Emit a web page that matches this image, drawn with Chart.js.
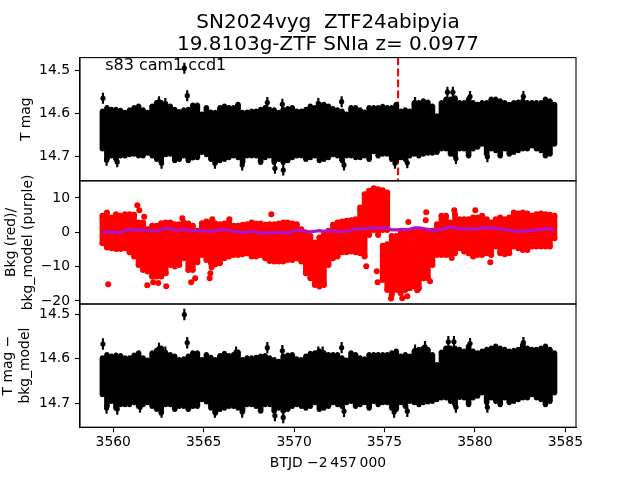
<!DOCTYPE html>
<html>
<head>
<meta charset="utf-8">
<style>body{margin:0;background:#fff}</style>
<script src="https://cdn.jsdelivr.net/npm/chart.js@4"></script>
</head>
<body>
<canvas id="myChart" width="640" height="480"></canvas>
<script>
// time bins, 0.25 d
const times = [3559.4,3559.65,3559.9,3560.15,3560.4,3560.65,3560.9,3561.15,3561.4,3561.65,3561.9,3562.15,3562.4,3562.65,3562.9,3563.15,3563.4,3563.65,3563.9,3564.15,3564.4,3564.65,3564.9,3565.15,3565.4,3565.65,3565.9,3566.15,3566.4,3566.65,3566.9,3567.15,3567.4,3567.65,3567.9,3568.15,3568.4,3568.65,3568.9,3569.15,3569.4,3569.65,3569.9,3570.15,3570.4,3570.65,3570.9,3571.15,3571.4,3571.65,3571.9,
  3572.15,3572.4,3572.65,3572.9,3573.15,3573.4,3573.65,3573.9,3574.15,3574.4,3574.65,3574.9,3575.15,3575.4,3575.65,3575.9,3576.15,3576.4,3576.65,3576.9,3577.15,3577.4,3577.65,3577.9,3578.15,3578.4,3578.65,3578.9,3579.15,3579.4,3579.65,3579.9,3580.15,3580.4,3580.65,3580.9,3581.15,3581.4,3581.65,3581.9,3582.15,3582.4,3582.65,3582.9,3583.15,3583.4,3583.65,3583.9,3584.15,3584.4];

// T mag, upper and lower edge of the dense band
const magTop = [14.589,14.581,14.585,14.585,14.587,14.592,14.586,14.581,14.577,14.586,14.592,14.577,14.569,14.569,14.573,14.577,14.585,14.590,14.586,14.585,14.575,14.575,14.596,14.581,14.591,14.592,14.581,14.577,14.581,14.581,14.573,14.592,14.591,14.589,14.589,14.585,14.581,14.585,14.586,14.592,14.585,14.583,14.581,14.589,14.589,14.585,14.577,14.581,14.573,14.573,14.577,
  14.583,14.586,14.589,14.596,14.581,14.581,14.586,14.591,14.581,14.581,14.581,14.578,14.581,14.581,14.573,14.589,14.586,14.589,14.569,14.569,14.565,14.568,14.577,14.600,14.569,14.561,14.561,14.558,14.569,14.569,14.561,14.569,14.573,14.569,14.569,14.561,14.561,14.565,14.569,14.573,14.569,14.568,14.565,14.569,14.569,14.569,14.569,14.561,14.565,14.573];
const magBottom = [14.689,14.713,14.705,14.713,14.705,14.705,14.702,14.701,14.705,14.705,14.699,14.705,14.713,14.720,14.702,14.701,14.716,14.713,14.705,14.716,14.710,14.709,14.697,14.702,14.713,14.720,14.716,14.713,14.709,14.705,14.709,14.720,14.705,14.705,14.705,14.720,14.709,14.705,14.720,14.713,14.720,14.716,14.709,14.705,14.705,14.713,14.709,14.705,14.716,14.713,14.709,
  14.702,14.705,14.716,14.705,14.705,14.709,14.709,14.705,14.713,14.695,14.705,14.701,14.701,14.713,14.716,14.709,14.713,14.705,14.701,14.705,14.701,14.699,14.699,14.697,14.689,14.689,14.701,14.705,14.689,14.689,14.705,14.689,14.685,14.678,14.701,14.689,14.693,14.705,14.689,14.701,14.697,14.693,14.689,14.689,14.682,14.689,14.693,14.705,14.701,14.678];
const magOutT = [3559.43,3563.93,3564.09,3568.52,3569.35,3562.53,3562.88,3571.34,3559.63,3560.22,3562.67,3565.62,3567.13,3568.94,3569.4,3572.63,3572.76,3575.58,3576.26,3578.48,3578.78,3579.73,3582.68,3578.95,3580.69,3576.69];
const magOutV = [14.565,14.495,14.559,14.575,14.579,14.573,14.577,14.577,14.709,14.713,14.716,14.716,14.720,14.728,14.732,14.573,14.720,14.716,14.715,14.551,14.551,14.561,14.561,14.705,14.701,14.575];

// Bkg
const bkgTop = [5.66,6.63,5.17,6.14,5.66,6.14,6.14,5.95,3.71,3.71,1.77,2.74,2.74,3.52,3.71,3.71,3.23,3.23,3.71,3.42,2.74,1.28,3.52,4.0,3.71,3.42,3.23,3.42,4.0,2.74,2.74,3.03,3.23,3.71,3.42,3.42,3.03,3.23,3.23,3.42,3.71,3.71,3.42,3.23,1.77,0.8,-0.18,-2.12,-0.66,0.31,1.28,
  3.03,3.71,4.0,4.2,4.39,4.68,8.09,11.97,12.94,13.72,13.43,13.14,12.46,-0.18,-0.18,1.28,1.28,1.28,1.28,1.48,1.28,1.28,1.28,3.23,5.66,5.66,3.71,6.14,4.68,4.68,4.68,5.17,5.17,5.66,4.68,3.71,4.68,5.17,4.68,5.17,6.63,6.34,6.63,6.34,5.66,6.14,6.34,6.14,5.95,5.66];
const bkgBottom = [-4.06,-5.33,-5.52,-5.71,-5.71,-5.52,-6.69,-7.95,-10.38,-11.84,-12.32,-13.78,-13.78,-13.78,-12.81,-10.38,-10.86,-10.38,-8.44,-11.84,-11.84,-9.6,-7.46,-8.92,-9.89,-10.18,-9.89,-8.44,-7.95,-7.46,-7.46,-7.27,-6.98,-7.95,-7.95,-7.46,-8.44,-9.21,-9.41,-9.41,-9.41,-8.92,-8.92,-8.44,-9.41,-12.81,-14.27,-16.21,-16.7,-16.21,-10.38,
  -8.44,-7.95,-6.69,-6.69,-6.49,-6.69,-6.98,-7.95,-1.63,-0.18,-1.63,-0.18,-0.18,-19.13,-17.67,-18.64,-17.67,-17.18,-16.7,-17.18,-14.27,-14.27,-10.38,-7.46,-7.46,-7.46,-7.46,-6.98,-5.52,-6.49,-6.98,-7.95,-7.46,-7.46,-6.98,-7.46,-5.03,-6.98,-7.27,-6.98,-5.03,-5.52,-6.01,-6.01,-5.03,-5.03,-5.03,-5.03,-5.03,-2.6];
const dipT = [3574.9,3575.15];
const dipTop = [-3.09,-2.6];
const dipBottom = [-14.75,-17.67];
const bkgOutT = [3561.33,3561.44,3561.71,3563.82,3568.74,3566.42,3565.48,3559.72,3561.88,3562.21,3562.49,3562.93,3564.31,3564.53,3565.33,3565.37,3565.44,3577.31,3577.28,3576.32,3578.86,3580.02,3573.99,3574.57,3574.62,3575.36,3575.98,3576.26,3576.81,3577.52,3580.85,3578.72];
const bkgOutV = [7.89,6.43,4.49,4.1,5.27,3.81,3.81,-15.14,-15.43,-14.56,-14.75,-15.72,-14.56,-13.39,-13.39,-11.93,-10.18,5.85,3.52,3.03,6.43,6.43,-9.89,-11.35,-14.56,-19.32,-19.22,-18.64,-16.89,-14.27,-8.73,-7.46];
const bkgModel = [0.12,0.02,-0.18,0.12,-0.18,0.5,0.99,0.6,0.7,0.8,0.6,0.31,0.5,0.8,1.09,0.99,0.7,0.6,0.99,0.31,0.5,0.5,0.5,0.31,0.31,0.5,0.7,0.8,0.6,0.31,0.12,-0.18,0.12,0.31,0.12,-0.18,-0.27,-0.18,-0.18,0.12,-0.18,-0.27,0.31,0.5,0.5,0.31,0.12,0.31,0.5,0.31,0.5,
  0.31,0.31,0.02,0.31,0.6,1.09,0.99,1.09,1.09,1.28,1.28,1.28,1.28,0.7,0.7,0.8,0.8,0.89,1.28,1.28,1.09,0.8,0.5,0.6,0.8,1.28,1.48,1.28,0.99,1.09,0.99,0.99,1.09,1.28,1.28,1.28,0.99,1.09,0.8,0.6,0.5,0.12,0.31,0.31,0.5,0.8,0.8,1.09,0.99,0.5];

// T mag - bkg_model
const corrTop = [14.592,14.585,14.588,14.586,14.587,14.592,14.592,14.586,14.581,14.592,14.597,14.581,14.575,14.570,14.581,14.585,14.588,14.596,14.594,14.588,14.581,14.581,14.596,14.585,14.591,14.596,14.587,14.582,14.587,14.585,14.579,14.596,14.592,14.592,14.591,14.588,14.587,14.592,14.596,14.600,14.588,14.586,14.585,14.594,14.596,14.588,14.582,14.581,14.577,14.581,14.585,
  14.585,14.585,14.592,14.597,14.581,14.585,14.592,14.594,14.585,14.585,14.585,14.585,14.585,14.581,14.577,14.588,14.585,14.588,14.577,14.573,14.570,14.573,14.585,14.607,14.579,14.570,14.570,14.570,14.573,14.577,14.566,14.577,14.581,14.577,14.573,14.570,14.566,14.570,14.573,14.577,14.575,14.573,14.562,14.570,14.573,14.573,14.570,14.566,14.573,14.581];
const corrBottom = [14.686,14.712,14.701,14.716,14.708,14.708,14.708,14.704,14.712,14.708,14.704,14.712,14.719,14.727,14.708,14.708,14.719,14.712,14.712,14.719,14.712,14.712,14.697,14.702,14.716,14.727,14.719,14.716,14.712,14.712,14.716,14.723,14.708,14.708,14.712,14.723,14.708,14.708,14.723,14.716,14.723,14.719,14.712,14.708,14.712,14.716,14.712,14.704,14.719,14.716,14.712,
  14.704,14.708,14.712,14.704,14.701,14.712,14.708,14.704,14.716,14.701,14.708,14.704,14.704,14.716,14.719,14.704,14.712,14.701,14.704,14.708,14.704,14.702,14.701,14.697,14.693,14.693,14.701,14.708,14.692,14.693,14.708,14.693,14.689,14.682,14.704,14.693,14.701,14.708,14.693,14.704,14.701,14.697,14.693,14.693,14.686,14.693,14.697,14.708,14.701,14.682];
const corrOutT = [3559.43,3563.93,3564.09,3568.52,3569.35,3562.53,3562.88,3566.79,3571.34,3571.58,3559.63,3560.22,3562.67,3567.13,3568.94,3569.4,3565.62,3561.48,3572.63,3572.76,3575.53,3576.26,3578.53,3578.84,3579.73,3582.68,3578.95,3580.69,3576.69,3577.24];
const corrOutV = [14.567,14.501,14.564,14.575,14.582,14.577,14.585,14.585,14.585,14.585,14.710,14.712,14.719,14.719,14.727,14.731,14.719,14.708,14.575,14.717,14.719,14.717,14.562,14.562,14.566,14.564,14.708,14.708,14.581,14.573];

const magErr = 0.012;
const eventTime = 3575.75;
const xTicks = [3560,3565,3570,3575,3580,3585];
const y1Ticks = [14.5,14.6,14.7];
const y2Ticks = [10,0,-10,-20];
const y3Ticks = [14.5,14.6,14.7];

function pairs(xs, ys) {
  return xs.map((x, i) => ({x: x, y: ys[i]}));
}
// lo/hi are the outer edges of the band, the bar stops short by inset and round dots make up the edge
function band(xs, lo, hi, inset, r, color, axis) {
  return [
    {type: 'bar', data: xs.map((x, i) => ({x: x, y: [lo[i] + inset, hi[i] - inset]})), backgroundColor: color,
      yAxisID: axis, barThickness: 5, grouped: false, order: 5},
    {type: 'scatter', data: xs.map((x, i) => ({x: x, y: lo[i] + inset})), backgroundColor: color, borderWidth: 0,
      pointRadius: r, yAxisID: axis, order: 5},
    {type: 'scatter', data: xs.map((x, i) => ({x: x, y: hi[i] - inset})), backgroundColor: color, borderWidth: 0,
      pointRadius: r, yAxisID: axis, order: 5}
  ];
}
function errBars(xs, ys, axis) {
  return {type: 'bar', data: xs.map((x, i) => ({x: x, y: [ys[i] - magErr, ys[i] + magErr]})),
    backgroundColor: '#000', yAxisID: axis, barThickness: 1.5, grouped: false, order: 4};
}
function dots(xs, ys, color, r, axis) {
  return {type: 'scatter', data: pairs(xs, ys), backgroundColor: color, borderWidth: 0,
    pointRadius: r, yAxisID: axis, order: 3};
}
function yAxis(lo, hi, ticks, title, pad, reverse, fmt) {
  return {
    type: 'linear', position: 'left', stack: 'panels', stackWeight: 1, min: lo, max: hi, reverse: reverse,
    offset: false, beginAtZero: false,
    afterFit: s => { s.width = 80; },
    afterBuildTicks: s => { s.ticks = ticks.map(v => ({value: v})); },
    grid: {display: true, drawOnChartArea: false, tickLength: 5, tickWidth: 1.1, tickColor: '#000', offset: false},
    border: {display: true, color: '#000', width: 1.1},
    ticks: {color: '#000', padding: 5, font: {size: 13.9}, autoSkip: false, callback: fmt},
    title: {display: true, text: title, color: '#000', font: {size: 13.9}, padding: {top: pad, bottom: 0}}
  };
}

// frame round each panel and the sector label
const framePlugin = {
  id: 'frame',
  afterDraw(chart) {
    const c = chart.ctx, x = chart.scales.x;
    c.save();
    c.strokeStyle = '#000';
    c.lineWidth = 1.1;
    ['y1', 'y2', 'y3'].forEach(id => {
      const s = chart.scales[id];
      c.strokeRect(x.left, s.top, x.right - x.left, s.bottom - s.top);
    });
    c.fillStyle = '#000';
    c.font = '16px "DejaVu Sans"';
    c.textBaseline = 'alphabetic';
    c.fillText('s83 cam1 ccd1', x.getPixelForValue(3559.55), chart.scales.y1.getPixelForValue(14.5));
    c.restore();
  }
};

Chart.defaults.font.family = '"DejaVu Sans"';

const ctx = document.getElementById('myChart').getContext('2d');
const myChart = new Chart(ctx, {
  type: 'scatter',
  data: {
    datasets: [
      {type: 'line', data: [{x: eventTime, y: 14.4705}, {x: eventTime, y: 14.757}], borderColor: '#ff0000',
        borderWidth: 2.1, borderDash: [7.7, 3.3], pointRadius: 0, yAxisID: 'y1', order: 10},
      ...band(times, magTop, magBottom, 0.0058, 2.5, '#000', 'y1'),
      errBars(magOutT, magOutV, 'y1'),
      dots(magOutT, magOutV, '#000', 2.6, 'y1'),
      ...band(times, bkgBottom, bkgTop, 0.87, 3, '#ff0000', 'y2'),
      ...band(dipT, dipBottom, dipTop, 0.87, 3, '#ff0000', 'y2'),
      dots(bkgOutT, bkgOutV, '#ff0000', 3, 'y2'),
      {type: 'line', data: pairs(times, bkgModel), borderColor: '#b012c8', borderWidth: 3.2, pointRadius: 0,
        yAxisID: 'y2', order: 1},
      ...band(times, corrTop, corrBottom, 0.0056, 2.5, '#000', 'y3'),
      errBars(corrOutT, corrOutV, 'y3'),
      dots(corrOutT, corrOutV, '#000', 2.6, 'y3')
    ]
  },
  options: {
    responsive: false,
    animation: false,
    layout: {padding: {left: 0, right: 64, top: 0, bottom: 0}},
    plugins: {
      legend: {display: false},
      tooltip: {enabled: false},
      title: {
        display: true,
        fullSize: false,
        text: ['SN2024vyg  ZTF24abipyia', '19.8103g-ZTF SNIa z= 0.0977'],
        color: '#000',
        font: {size: 20, weight: 'normal', lineHeight: 1.1},
        padding: {top: 12, bottom: 1.6}
      }
    },
    scales: {
      x: {
        type: 'linear', min: 3558.16, max: 3585.59, offset: false,
        afterFit: s => { s.height = 52.8; },
        afterBuildTicks: s => { s.ticks = xTicks.map(v => ({value: v})); },
        grid: {display: true, drawOnChartArea: false, tickLength: 5, tickWidth: 1.1, tickColor: '#000', offset: false},
        border: {display: true, color: '#000', width: 1.1},
        ticks: {color: '#000', padding: 2, maxRotation: 0, font: {size: 13.9}, callback: v => String(v)},
        title: {display: true, text: 'BTJD \u22122\u2009457\u2009000', color: '#000', font: {size: 13.9}, padding: {top: 2, bottom: 8}}
      },
      y3: yAxis(14.4775, 14.7528, y3Ticks, ['T mag \u2212', 'bkg_model'], 0, true, v => v.toFixed(1)),
      y2: yAxis(-20.9, 15, y2Ticks, ['Bkg (red)/', 'bkg_model (purple)'], 3, false, v => String(v).replace('-', '\u2212')),
      y1: yAxis(14.4705, 14.757, y1Ticks, 'T mag', 18, true, v => v.toFixed(1))
    }
  },
  plugins: [framePlugin]
});
</script>
</body>
</html>
